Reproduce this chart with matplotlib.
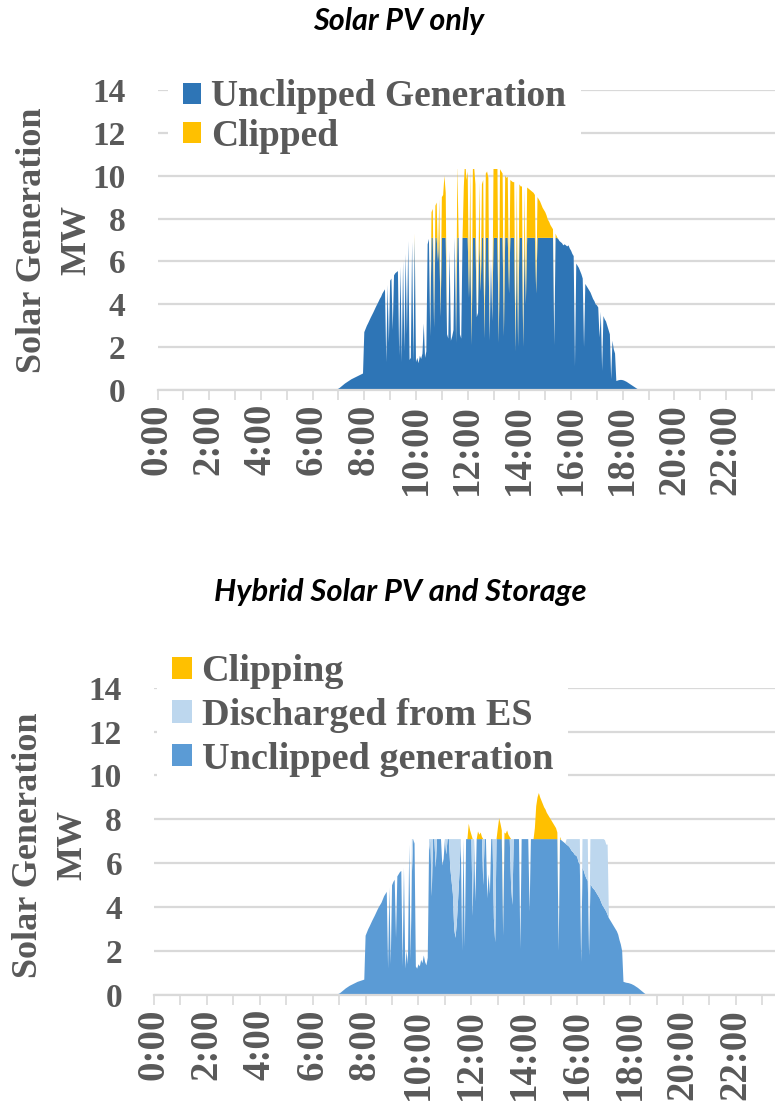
import numpy as np
from matplotlib import pyplot as plt

# generation sampled every 3 minutes from 6:45 to 18:45, zero the rest of the day
start_hour = 6.75
step_minutes = 3
clip_limit = 7.1  # MW, inverter limit

hour_labels = ["0:00", "2:00", "4:00", "6:00", "8:00", "10:00",
               "12:00", "14:00", "16:00", "18:00", "20:00", "22:00"]

# Solar PV only - total PV output (MW)
pv_only = [
    0, 0, 0, 0.02, 0.04,  # 6:45
    0.06, 0.10, 0.15, 0.20, 0.25, 0.30, 0.34, 0.38, 0.42, 0.46,  # 7:00
    0.50, 0.53, 0.56, 0.59, 0.62, 0.65, 0.68, 0.71, 0.74, 0.77,
    2.70, 2.85, 3.00, 3.12, 3.25, 3.38, 3.50, 3.62, 3.75, 3.88,  # 8:00
    4.00, 4.12, 4.25, 4.35, 4.50, 4.60, 4.70, 1.30, 4.90, 2.20,
    5.10, 5.20, 2.80, 5.35, 5.45, 5.50, 5.55, 1.60, 5.75, 1.30,  # 9:00
    6.00, 1.80, 6.35, 2.60, 6.95, 1.40, 1.50, 6.90, 1.30, 7.30,
    1.30, 1.50, 1.25, 1.60, 1.45, 1.70, 3.10, 1.50, 1.80, 6.80,  # 10:00
    7.05, 2.50, 8.30, 8.45, 2.90, 8.60, 8.75, 6.00, 8.90, 3.40,
    9.00, 9.10, 10.0, 9.20, 2.60, 2.40, 6.50, 2.30, 2.50, 2.80,  # 11:00
    7.10, 2.20, 10.5, 7.10, 2.60, 2.40, 7.10, 9.50, 10.8, 9.80,
    10.2, 4.30, 10.3, 2.10, 10.3, 10.4, 9.60, 3.40, 3.60, 9.70,  # 12:00
    4.60, 9.60, 9.80, 2.40, 10.1, 10.2, 9.90, 2.30, 6.00, 3.20,
    10.6, 10.8, 10.7, 10.5, 2.20, 10.3, 10.2, 10.1, 2.50, 10.0,  # 13:00
    9.90, 9.95, 4.50, 9.80, 9.75, 9.70, 9.70, 1.80, 9.60, 2.00,
    9.60, 9.50, 9.50, 2.00, 9.40, 4.00, 9.45, 9.40, 9.35, 9.30,  # 14:00
    9.25, 9.20, 9.10, 4.50, 9.00, 8.90, 8.80, 8.65, 8.50, 8.40,
    8.30, 8.15, 7.95, 7.85, 7.70, 7.60, 7.50, 2.10, 7.30, 7.15,  # 15:00
    7.05, 6.95, 6.90, 6.85, 6.75, 6.80, 6.75, 6.70, 6.75, 6.60,
    6.50, 6.35, 6.25, 1.10, 5.90, 5.80, 5.70, 5.55, 5.40, 5.20,  # 16:00
    2.00, 4.95, 4.85, 4.75, 4.65, 4.55, 4.40, 4.25, 4.15, 4.00,
    3.95, 3.85, 2.45, 3.65, 0.90, 3.45, 3.30, 3.20, 3.00, 2.80,  # 17:00
    2.60, 0.50, 2.30, 1.90, 1.70, 0.42, 0.44, 0.46, 0.47, 0.47,
    0.46, 0.44, 0.41, 0.38, 0.34, 0.30, 0.26, 0.22, 0.18, 0.14,  # 18:00
    0.10, 0.06, 0.03, 0, 0, 0,
]

# Hybrid solar PV and storage - PV output (MW)
pv_hybrid = [
    0, 0, 0, 0.02, 0.04,  # 6:45
    0.06, 0.10, 0.15, 0.20, 0.25, 0.30, 0.34, 0.38, 0.42, 0.45,  # 7:00
    0.48, 0.51, 0.54, 0.57, 0.60, 0.62, 0.64, 0.66, 0.68, 0.70,
    2.70, 2.85, 3.00, 3.12, 3.25, 3.38, 3.50, 3.62, 3.75, 3.88,  # 8:00
    4.00, 4.10, 4.20, 4.35, 4.50, 4.60, 4.70, 1.20, 4.90, 1.40,
    5.00, 5.15, 5.25, 2.60, 5.40, 5.50, 5.60, 5.65, 1.30, 5.80,  # 9:00
    1.20, 2.00, 1.40, 6.85, 1.60, 5.50, 7.10, 6.90, 1.30, 1.20,
    1.40, 1.30, 1.60, 1.45, 1.80, 1.50, 1.35, 1.70, 6.60, 7.10,  # 10:00
    4.50, 7.10, 7.10, 5.80, 7.10, 7.10, 7.10, 7.10, 5.90, 6.20,
    7.10, 6.40, 7.10, 7.10, 5.80, 5.20, 4.60, 3.00, 2.60, 3.30,  # 11:00
    4.40, 5.60, 7.10, 2.00, 7.10, 2.20, 7.10, 7.10, 7.80, 7.50,
    7.30, 3.60, 7.10, 4.25, 7.10, 7.45, 7.30, 7.40, 7.20, 5.00,  # 12:00
    7.10, 7.10, 4.40, 5.50, 4.60, 7.10, 7.10, 3.50, 2.40, 7.10,
    7.60, 8.05, 7.80, 7.50, 2.70, 7.40, 7.35, 7.50, 7.30, 7.20,  # 13:00
    5.00, 4.10, 7.10, 7.10, 7.10, 7.10, 7.10, 2.10, 7.10, 7.10,
    7.10, 7.10, 7.10, 7.10, 3.80, 7.10, 7.10, 7.10, 7.60, 8.60,  # 14:00
    9.00, 9.20, 9.00, 8.85, 8.70, 8.55, 8.45, 8.30, 8.20, 8.10,
    8.00, 7.90, 7.80, 7.70, 7.60, 7.40, 2.00, 7.20, 7.05, 7.00,  # 15:00
    6.95, 6.90, 6.85, 6.80, 6.75, 6.65, 6.55, 6.50, 6.40, 6.35,
    6.30, 6.05, 5.95, 1.50, 5.80, 5.65, 5.45, 5.30, 5.20, 1.80,  # 16:00
    5.05, 4.95, 4.85, 4.80, 4.70, 4.60, 4.50, 4.40, 4.25, 4.10,
    4.00, 3.90, 3.80, 3.65, 3.50, 3.40, 3.30, 3.20, 3.10, 3.00,  # 17:00
    2.90, 2.75, 2.50, 2.30, 2.00, 0.60, 0.58, 0.56, 0.55, 0.54,
    0.52, 0.50, 0.47, 0.44, 0.40, 0.36, 0.32, 0.27, 0.22, 0.17,  # 18:00
    0.12, 0.07, 0.03, 0, 0, 0,
]

# Hybrid - energy discharged from storage (MW)
es_discharge = (
    [0] * 5                                                     # 6:45
    + [0] * 20                                                  # 7:00
    + [0] * 20                                                  # 8:00
    + [0] * 15 + [1.6, 0, 0, 0, 0]                              # 9:00
    + [0, 0, 0, 0, 0, 0, 0, 0, 0.5, 0, 2.6, 0, 0, 1.3, 0, 0, 0, 0, 0, 0]          # 10:00
    + [0, 0.7, 0, 0, 1.3, 1.9, 2.5, 4.1, 4.5, 3.8, 2.7, 1.5, 0, 0, 0, 0, 0, 0, 0, 0]  # 11:00
    + [0, 3.5, 0, 0, 0, 0, 0, 0, 0, 2.1, 0, 0, 0, 0, 0, 0, 0, 3.6, 4.7, 0]        # 12:00
    + [0] * 10 + [2.1, 3.0] + [0] * 8                           # 13:00
    + [0] * 20                                                  # 14:00
    + [0] * 12 + [0.25, 0.3, 0.35, 0.45, 0.55, 0.6, 0.7, 0.75]  # 15:00
    + [0.8, 1.05, 1.15, 0, 1.3, 1.45, 1.65, 1.8, 1.9, 0,
       2.05, 2.15, 2.25, 2.3, 2.4, 2.5, 2.6, 2.7, 2.85, 3.0]    # 16:00
    + [3.1, 3.15, 3.05, 3.2] + [0] * 16                         # 17:00
    + [0] * 16                                                  # 18:00
)

GREY_TXT = "#595959"
GRID = "#D9D9D9"
plt.rcParams["font.family"] = ["Liberation Serif", "DejaVu Serif"]
plt.rcParams["font.weight"] = "bold"

t = start_hour + np.arange(len(pv_only)) * step_minutes / 60.0

tick_text = []
for h in range(25):
    tick_text.append(hour_labels[h // 2] if h % 2 == 0 and h < 24 else "")


def style_axes(ax):
    ax.set_xlim(0, 24)
    ax.set_ylim(0, 14)
    ax.set_yticks(np.arange(0, 15, 2))
    ax.set_xticks(range(25))
    ax.set_xticklabels(tick_text, rotation=90)
    ax.yaxis.grid(True, color=GRID, lw=1.6)
    ax.set_axisbelow(True)
    for s in ["left", "right", "top"]:
        ax.spines[s].set_visible(False)
    ax.spines["bottom"].set_color(GRID)
    ax.spines["bottom"].set_linewidth(1.6)
    ax.tick_params(axis="x", length=7, width=1.2, color=GRID, pad=3,
                   labelsize=28, labelcolor=GREY_TXT)
    ax.tick_params(axis="y", length=0, pad=23, labelsize=24, labelcolor=GREY_TXT)


fig = plt.figure(figsize=(7.75, 11.02), dpi=100)

# ---- top: solar PV only
ax1 = fig.add_axes([157.5 / 775, 1 - 390 / 1102, 620.4 / 775, 300 / 1102])
pv = np.array(pv_only)
unclipped = np.minimum(pv, clip_limit)
clipped = pv - unclipped
polys = ax1.stackplot(t, unclipped, clipped, colors=["#2E75B6", "#FFC000"], linewidth=0)
style_axes(ax1)
ax1.text(-0.1655, 0.5, "Solar Generation\nMW", transform=ax1.transAxes, rotation=90,
         ha="center", va="center", multialignment="center", fontsize=26,
         color=GREY_TXT, linespacing=1.45)
ax1.legend(polys, ["Unclipped Generation", "Clipped"], loc="upper left",
           bbox_to_anchor=(0.017, 1.085), fontsize=27, labelcolor=GREY_TXT,
           frameon=True, facecolor="white", edgecolor="none", framealpha=1,
           fancybox=False, handlelength=0.48, handleheight=0.48,
           handletextpad=0.27, labelspacing=0.11, borderpad=0.4, borderaxespad=0)

# ---- bottom: hybrid
ax2 = fig.add_axes([154 / 775, 1 - 995 / 1102, 634.8 / 775, 307.4 / 1102])
pvh = np.array(pv_hybrid)
unclipped_h = np.minimum(pvh, clip_limit)
clipping_h = pvh - unclipped_h
polys2 = ax2.stackplot(t, unclipped_h, np.array(es_discharge), clipping_h,
                       colors=["#5B9BD5", "#BDD7EE", "#FFC000"], linewidth=0)
style_axes(ax2)
ax2.text(-0.1623, 0.488, "Solar Generation\nMW", transform=ax2.transAxes, rotation=90,
         ha="center", va="center", multialignment="center", fontsize=26,
         color=GREY_TXT, linespacing=1.45)
ax2.legend([polys2[2], polys2[1], polys2[0]],
           ["Clipping", "Discharged from ES", "Unclipped generation"],
           loc="upper left", bbox_to_anchor=(0.004, 1.158), fontsize=27.5,
           labelcolor=GREY_TXT, frameon=True, facecolor="white", edgecolor="none",
           framealpha=1, fancybox=False, handlelength=0.52, handleheight=0.52,
           handletextpad=0.26, labelspacing=0.23, borderpad=0.4, borderaxespad=0)

fig.text(399 / 775, 1 - 21 / 1102, "Solar PV only", ha="center", va="center",
         fontsize=22, fontweight="bold", fontstyle="italic", family="Lato", color="black")
fig.text(400 / 775, 1 - 592 / 1102, "Hybrid Solar PV and Storage", ha="center",
         va="center", fontsize=22.3, fontweight="bold", fontstyle="italic",
         family="Lato", color="black")

fig.savefig("out.png", dpi=100)
